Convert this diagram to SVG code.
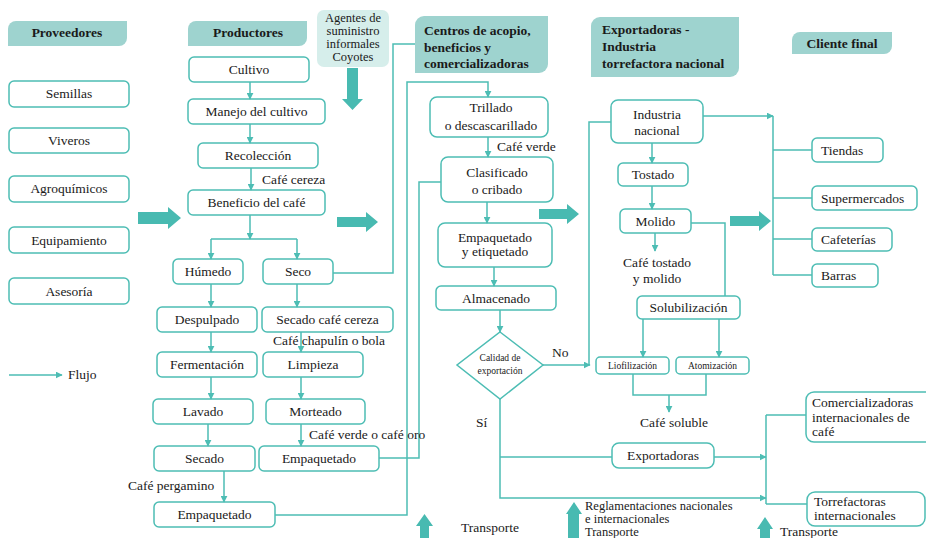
<svg xmlns="http://www.w3.org/2000/svg" width="926" height="538" viewBox="0 0 926 538" font-family="'Liberation Serif', 'Times New Roman', serif">
<defs>
<marker id="ah" viewBox="0 0 10 10" refX="9" refY="5" markerWidth="7" markerHeight="7" markerUnits="userSpaceOnUse" orient="auto"><path d="M0,0 L10,5 L0,10 Z" fill="#4dbdb4"/></marker>
<style>
text{font-family:"Liberation Serif","Times New Roman",serif;font-size:13.5px;fill:#1a1a1a}
.b{fill:#fff;stroke:#4dbdb4;stroke-width:1.5}
.h{fill:#9ed3cf}
.ht{font-weight:bold;font-size:13.5px}
.c{text-anchor:middle}
.s{font-size:9.5px}
.ag{font-size:12.5px}
.l{fill:none;stroke:#4dbdb4;stroke-width:1.5}
.a{marker-end:url(#ah)}
.big{fill:#48bab1}
</style>
</defs>
<rect width="926" height="538" fill="#fff"/>

<!-- headers -->
<g id="h-proveedores"><path class="h" d="M8,29 A8,8 0 0 1 16,21 H127 V38 A8,8 0 0 1 119,46 H8 Z"/><text class="ht c" x="67" y="37">Proveedores</text></g>
<g id="h-productores"><path class="h" d="M188,29 A8,8 0 0 1 196,21 H307 V38 A8,8 0 0 1 299,46 H188 Z"/><text class="ht c" x="248" y="37">Productores</text></g>
<g id="h-centros"><path class="h" d="M415,25 A9,9 0 0 1 424,16 H548 V64 A9,9 0 0 1 539,73 H415 Z"/><text class="ht" x="424" y="35">Centros de acopio,</text><text class="ht" x="424" y="52">beneficios y</text><text class="ht" x="424" y="68">comercializadoras</text></g>
<g id="h-exportadoras"><path class="h" d="M591,26 A9,9 0 0 1 600,17 H739 V68 A9,9 0 0 1 730,77 H591 Z"/><text class="ht" x="602" y="34">Exportadoras -</text><text class="ht" x="602" y="51">Industria</text><text class="ht" x="602" y="68">torrefactora nacional</text></g>
<g id="h-cliente"><path class="h" d="M792,40 A8,8 0 0 1 800,32 H892 V46 A8,8 0 0 1 884,54 H792 Z"/><text class="ht c" x="842" y="48">Cliente final</text></g>

<g id="agentes"><rect x="317" y="10" width="72" height="57" rx="7" fill="#d6eeeb"/><text class="c ag" x="353" y="22">Agentes de</text><text class="c ag" x="353" y="35">suministro</text><text class="c ag" x="353" y="48">informales</text><text class="c ag" x="353" y="61">Coyotes</text></g>

<!-- proveedores -->
<g id="semillas"><rect class="b" x="9" y="81" width="120" height="26" rx="5"/><text class="c" x="69" y="98">Semillas</text></g>
<g id="viveros"><rect class="b" x="9" y="128" width="120" height="25" rx="5"/><text class="c" x="69" y="145">Viveros</text></g>
<g id="agroquimicos"><rect class="b" x="9" y="176" width="120" height="26" rx="5"/><text class="c" x="69" y="193">Agroquímicos</text></g>
<g id="equipamiento"><rect class="b" x="9" y="227" width="120" height="26" rx="5"/><text class="c" x="69" y="244.5">Equipamiento</text></g>
<g id="asesoria"><rect class="b" x="9" y="278" width="120" height="26" rx="5"/><text class="c" x="69" y="295.5">Asesoría</text></g>

<!-- productores -->
<g id="cultivo"><rect class="b" x="189" y="57" width="120" height="25" rx="5"/><text class="c" x="249" y="74">Cultivo</text></g>
<g id="manejo"><rect class="b" x="188" y="99" width="137" height="25" rx="5"/><text class="c" x="256.5" y="116">Manejo del cultivo</text></g>
<g id="recoleccion"><rect class="b" x="198" y="143" width="120" height="25" rx="5"/><text class="c" x="258" y="160">Recolección</text></g>
<g id="beneficio"><rect class="b" x="188" y="190" width="137" height="25" rx="5"/><text class="c" x="256.5" y="207">Beneficio del café</text></g>
<g id="humedo"><rect class="b" x="173" y="259" width="70" height="25" rx="5"/><text class="c" x="208" y="276">Húmedo</text></g>
<g id="seco"><rect class="b" x="263" y="259" width="70" height="25" rx="5"/><text class="c" x="298" y="276">Seco</text></g>
<g id="despulpado"><rect class="b" x="157" y="307" width="100" height="25" rx="5"/><text class="c" x="207" y="324">Despulpado</text></g>
<g id="secado-cc"><rect class="b" x="262" y="307" width="131" height="25" rx="5"/><text class="c" x="327.5" y="324">Secado café cereza</text></g>
<g id="fermentacion"><rect class="b" x="157" y="352" width="100" height="25" rx="5"/><text class="c" x="207" y="369">Fermentación</text></g>
<g id="limpieza"><rect class="b" x="263" y="352" width="100" height="25" rx="5"/><text class="c" x="313" y="369">Limpieza</text></g>
<g id="lavado"><rect class="b" x="153" y="399" width="100" height="25" rx="5"/><text class="c" x="203" y="416">Lavado</text></g>
<g id="morteado"><rect class="b" x="266" y="399" width="99" height="25" rx="5"/><text class="c" x="315.5" y="416">Morteado</text></g>
<g id="secado"><rect class="b" x="154" y="446" width="101" height="25" rx="5"/><text class="c" x="204.5" y="463">Secado</text></g>
<g id="empaq-seco"><rect class="b" x="259" y="446" width="120" height="25" rx="5"/><text class="c" x="319" y="463">Empaquetado</text></g>
<g id="empaq-humedo"><rect class="b" x="154" y="502" width="121" height="25" rx="5"/><text class="c" x="214.5" y="519">Empaquetado</text></g>

<!-- centros -->
<g id="trillado"><rect class="b" x="430" y="97" width="118" height="40" rx="7"/><text class="c" x="491" y="112">Trillado</text><text class="c" x="491" y="130">o descascarillado</text></g>
<g id="clasificado"><rect class="b" x="441" y="157" width="112" height="45" rx="7"/><text class="c" x="497" y="177">Clasificado</text><text class="c" x="497" y="194">o cribado</text></g>
<g id="empaq-etiq"><rect class="b" x="438" y="223" width="114" height="44" rx="7"/><text class="c" x="495" y="242">Empaquetado</text><text class="c" x="495" y="256">y etiquetado</text></g>
<g id="almacenado"><rect class="b" x="436" y="286" width="120" height="24" rx="5"/><text class="c" x="496" y="303">Almacenado</text></g>
<g id="calidad"><path class="b" d="M500,332 L543,365 L500,399 L457,365 Z"/><text class="c s" x="500" y="361">Calidad de</text><text class="c s" x="500" y="374">exportación</text></g>

<!-- exportadoras -->
<g id="industria"><rect class="b" x="611" y="100" width="92" height="43" rx="7"/><text class="c" x="657" y="118.5">Industria</text><text class="c" x="657" y="134.5">nacional</text></g>
<g id="tostado"><rect class="b" x="618" y="163" width="70" height="23" rx="5"/><text class="c" x="653" y="179">Tostado</text></g>
<g id="molido"><rect class="b" x="620" y="209" width="71" height="24" rx="5"/><text class="c" x="655.5" y="225.5">Molido</text></g>
<g id="solubilizacion"><rect class="b" x="637" y="296" width="103" height="23" rx="5"/><text class="c" x="688.5" y="312">Solubilización</text></g>
<g id="liofilizacion"><rect class="b" x="596" y="357" width="73" height="17" rx="4"/><text class="c s" x="632.5" y="369">Liofilización</text></g>
<g id="atomizacion"><rect class="b" x="676" y="357" width="73" height="17" rx="4"/><text class="c s" x="712.5" y="369">Atomización</text></g>
<g id="exportadoras"><rect class="b" x="612" y="443" width="102" height="25" rx="7"/><text class="c" x="663" y="460">Exportadoras</text></g>

<!-- cliente final -->
<g id="tiendas"><rect class="b" x="812" y="138" width="71" height="24" rx="5"/><text x="821" y="154.5">Tiendas</text></g>
<g id="supermercados"><rect class="b" x="812" y="186" width="105" height="24" rx="5"/><text x="821" y="202.5">Supermercados</text></g>
<g id="cafeterias"><rect class="b" x="812" y="228" width="80" height="23" rx="5"/><text x="821" y="244">Cafeterías</text></g>
<g id="barras"><rect class="b" x="812" y="264" width="66" height="23" rx="5"/><text x="821" y="280">Barras</text></g>
<g id="comercializadoras"><rect class="b" x="806" y="392" width="128" height="50" rx="8"/><text x="812" y="406.5">Comercializadoras</text><text x="812" y="421.5">internacionales de</text><text x="812" y="436">café</text></g>
<g id="torrefactoras"><rect class="b" x="807" y="492" width="118" height="34" rx="8"/><text x="814" y="505.5">Torrefactoras</text><text x="814" y="519.5">internacionales</text></g>

<!-- connectors -->
<g id="connectors">
<path class="l a" d="M250,82 V99"/>
<path class="l a" d="M250,124 V143"/>
<path class="l a" d="M251,168 V190"/>
<path class="l a" d="M250,215 V239"/>
<path class="l" d="M211,239 H297"/>
<path class="l a" d="M211,239 V259"/>
<path class="l a" d="M297,239 V259"/>
<path class="l" d="M333,273 H393 V44 H415"/>
<path class="l a" d="M211,284 V307"/>
<path class="l a" d="M211,332 V352"/>
<path class="l a" d="M211,377 V399"/>
<path class="l a" d="M208,424 V446"/>
<path class="l a" d="M224,471 V502"/>
<path class="l a" d="M297,284 V307"/>
<path class="l a" d="M301,332 V352"/>
<path class="l a" d="M301,377 V399"/>
<path class="l a" d="M301,424 V446"/>
<path class="l a" d="M275,515 H407 V82 H488 V97"/>
<path class="l" d="M379,458 H419 V182 H441"/>
<path class="l a" d="M488,137 V157"/>
<path class="l a" d="M487,202 V223"/>
<path class="l a" d="M494,267 V286"/>
<path class="l a" d="M500,310 V332"/>
<path class="l a" d="M543,365 H590"/>
<path class="l" d="M589,365 V122 H611"/>
<path class="l a" d="M500,399 V498 H766"/>
<path class="l" d="M500,457 H612"/>
<path class="l a" d="M714,457 H766"/>
<path class="l" d="M766,415 V504 M766,415 H806 M766,504 H807"/>
<path class="l a" d="M703,116 H773"/>
<path class="l" d="M773,116 V275 M773,150 H812 M773,198 H812 M773,239 H812 M773,275 H812"/>
<path class="l a" d="M652,143 V163"/>
<path class="l a" d="M652,186 V209"/>
<path class="l a" d="M655,233 V251"/>
<path class="l" d="M691,223 H725 V296"/>
<path class="l a" d="M643,319 V357"/>
<path class="l a" d="M719,319 V357"/>
<path class="l" d="M633,374 V395 H706 V374"/>
<path class="l a" d="M669,395 V412"/>
<path class="l a" d="M9,375 H62"/>
</g>

<!-- big arrows -->
<g id="big-arrows">
<polygon class="big" points="138,212 168,212 168,207 181,218 168,229 168,224 138,224"/>
<polygon class="big" points="337,217 366,217 366,212 378,222 366,232 366,227 337,227"/>
<polygon class="big" points="539,209 567,209 567,204 579,214 567,224 567,219 539,219"/>
<polygon class="big" points="730,216 759,216 759,211 771,221 759,231 759,226 730,226"/>
<polygon class="big" points="347,68 358,68 358,99 363,99 352.5,110 342,99 347,99"/>
<polygon class="big" points="420,538 420,526 416,526 424.5,514 433,526 429,526 429,538"/>
<polygon class="big" points="568,538 568,514 566,514 574,502 582,514 579,514 579,538"/>
<polygon class="big" points="760,538 760,529 757,529 765,517 773,529 770,529 770,538"/>
</g>

<!-- labels -->
<g id="labels">
<text x="262" y="184">Café cereza</text>
<text x="273" y="345">Café chapulín o bola</text>
<text x="309" y="439">Café verde o café oro</text>
<text x="128" y="490">Café pergamino</text>
<text x="497" y="151">Café verde</text>
<text x="552" y="357">No</text>
<text x="476" y="427">Sí</text>
<text class="c" x="657" y="267">Café tostado</text>
<text class="c" x="657" y="283">y molido</text>
<text class="c" x="674" y="427">Café soluble</text>
<text x="68" y="379">Flujo</text>
<text x="461" y="532">Transporte</text>
<text class="ag" x="585" y="510">Reglamentaciones nacionales</text>
<text class="ag" x="585" y="523">e internacionales</text>
<text class="ag" x="585" y="535.5">Transporte</text>
<text x="780" y="535.5">Transporte</text>
</g>
</svg>
